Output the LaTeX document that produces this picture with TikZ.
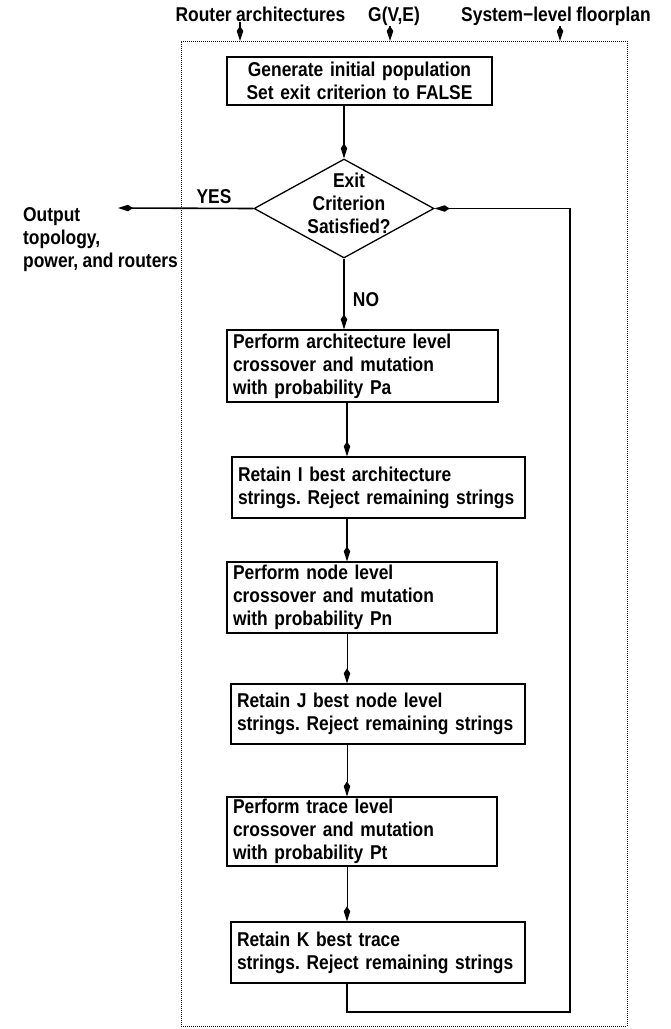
\documentclass[tikz,border=0pt]{standalone}
\usepackage{fontspec}
\setmainfont{Liberation Sans}[FakeStretch=0.87,WordSpace=0.9]
\usetikzlibrary{arrows.meta,shapes.geometric}
\newcommand\flowfont{\fontsize{20}{23}\selectfont\bfseries\frenchspacing}
\begin{document}
\begin{tikzpicture}[x=1pt,y=-1pt,
  every node/.style={font=\flowfont},
  box/.style={draw,line width=1.3pt,inner xsep=6pt,inner ysep=0pt,align=left},
  link/.style={line width=1.6pt,-{Kite[length=15pt,width=6.5pt,inset=5pt]}},
  thinlink/.style={link,line width=1pt},
  frame/.style={draw,line width=1pt,dash pattern=on 1pt off 1pt,inner sep=0pt},
  toplabel/.style={anchor=base,inner sep=1pt}]
\useasboundingbox (0,0) rectangle (670,1029);

% dotted boundary of the optimisation loop
\node[frame,minimum width=446pt,minimum height=985pt] (frame) at (404,533.5) {};

% inputs
\node[toplabel] (ra)  at (260.5,21) {Router architectures};
\node[toplabel] (gve) at (394,21) {G(V,E)};
\node[toplabel] (slf) at (556,21) {System−level floorplan};
\coordinate (in1) at (240,41);
\coordinate (in2) at (390,41);
\coordinate (in3) at (560,41);
\draw[link] (ra.south -| in1) -- (in1);
\draw[link] (gve.south -| in2) -- (in2);
\draw[link] (slf.south -| in3) -- (in3);

% flow
\coordinate (spine) at (347,0);
\node[box,text width=253pt,minimum height=48pt,align=center] (b1) at (359.5,81)
  {Generate initial population\\Set exit criterion to FALSE};
\node[draw,diamond,line width=1.3pt,inner sep=0pt,minimum width=180pt,minimum height=99pt] (d) at (344,208.5) {};
\node[align=center,inner sep=0pt] (dtxt) at (349,203) {Exit\\Criterion\\Satisfied?};

\node[box,text width=259pt,minimum height=72pt] (b2) at (362.5,366)
  {Perform architecture level\\crossover and mutation\\with probability Pa};
\node[box,text width=281pt,minimum height=61pt] (b3) at (378.5,487.5)
  {Retain I best architecture\\strings. Reject remaining strings};
\node[box,text width=258pt,minimum height=71pt] (b4) at (362,597.5)
  {Perform node level\\crossover and mutation\\with probability Pn};
\node[box,text width=282pt,minimum height=60pt] (b5) at (378,714)
  {Retain J best node level\\strings. Reject remaining strings};
\node[box,text width=258pt,minimum height=69pt] (b6) at (362,831.5)
  {Perform trace level\\crossover and mutation\\with probability Pt};
\node[box,text width=282pt,minimum height=61pt] (b7) at (378,952.5)
  {Retain K best trace\\strings. Reject remaining strings};

% output branch
\node[align=left,anchor=west,inner sep=0pt] (out) at (23,240)
  {Output\\topology,\\power, and routers};
\coordinate (yesend) at (118,208);
\node (yes) at (214,197) {YES};
\node (no) at (366,300) {NO};

% connectors
\draw[link] (b1.south -| d.north) -- (d.north);
\draw[link] (d.west) -- (yesend);
\draw[link] (d.south) -- (b2.north -| d.south);
\draw[link] (b2.south -| spine) -- (b3.north -| spine);
\draw[link] (b3.south -| spine) -- (b4.north -| spine);
\draw[thinlink] (b4.south -| spine) -- (b5.north -| spine);
\draw[thinlink] (b5.south -| spine) -- (b6.north -| spine);
\draw[thinlink] (b6.south -| spine) -- (b7.north -| spine);

% loop back to the exit test
\coordinate (loop) at (570,1012);
\draw[link] (b7.south -| spine) |- (loop) |- (d.east);
\end{tikzpicture}
\end{document}
